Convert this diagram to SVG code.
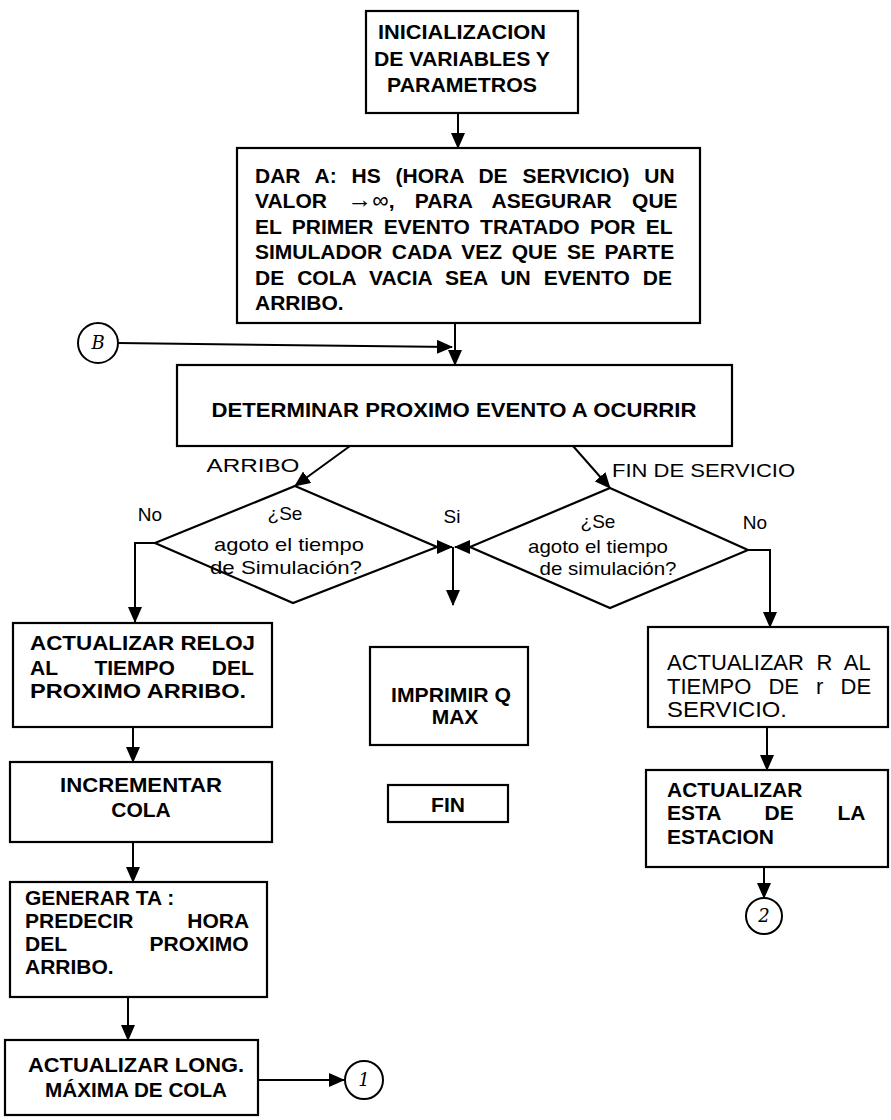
<svg xmlns="http://www.w3.org/2000/svg" width="891" height="1120" viewBox="0 0 891 1120">
<style>
.box{fill:#fff;stroke:#000;stroke-width:2.2}
.dia{fill:none;stroke:#000;stroke-width:2.2}
.con{fill:none;stroke:#000;stroke-width:2}
.b{font-family:"Liberation Sans",Arial,sans-serif;font-weight:bold;font-size:21px;fill:#000}
.r{font-family:"Liberation Sans",Arial,sans-serif;font-size:22px;fill:#000}
.d{font-family:"Liberation Sans",Arial,sans-serif;font-size:19px;fill:#000}
.h{font-family:"DejaVu Serif",serif;font-style:italic;font-size:18px;fill:#000}
.c{fill:#fff;stroke:#000;stroke-width:2}
.n{font-weight:normal}
</style>
<defs>
<marker id="ah" markerUnits="userSpaceOnUse" markerWidth="16" markerHeight="14" refX="15" refY="7" orient="auto">
<path d="M0,0 L16,7 L0,14 Z" fill="#000"/>
</marker>
</defs>
<rect width="891" height="1120" fill="#fff"/>

<g id="connectors">
<line class="con" x1="458" y1="113" x2="458" y2="148" marker-end="url(#ah)"/>
<line class="con" x1="455" y1="323" x2="455" y2="365" marker-end="url(#ah)"/>
<line class="con" x1="118" y1="343" x2="452" y2="347" marker-end="url(#ah)"/>
<line class="con" x1="350" y1="446" x2="295" y2="486" marker-end="url(#ah)"/>
<line class="con" x1="573" y1="446" x2="610" y2="488" marker-end="url(#ah)"/>
<line class="con" x1="437" y1="547" x2="452" y2="547" marker-end="url(#ah)"/>
<line class="con" x1="470" y1="547" x2="455" y2="547" marker-end="url(#ah)"/>
<line class="con" x1="453" y1="547" x2="453" y2="605" marker-end="url(#ah)"/>
<polyline class="con" points="155,543 135,543 135,622" marker-end="url(#ah)"/>
<polyline class="con" points="748,550 770,550 770,627" marker-end="url(#ah)"/>
<line class="con" x1="767" y1="727" x2="767" y2="770" marker-end="url(#ah)"/>
<line class="con" x1="764" y1="867" x2="764" y2="898" marker-end="url(#ah)"/>
<line class="con" x1="133" y1="727" x2="133" y2="762" marker-end="url(#ah)"/>
<line class="con" x1="133" y1="842" x2="133" y2="882" marker-end="url(#ah)"/>
<line class="con" x1="128" y1="997" x2="128" y2="1040" marker-end="url(#ah)"/>
<line class="con" x1="258" y1="1080" x2="344" y2="1080" marker-end="url(#ah)"/>
</g>

<g id="n-init">
<rect class="box" x="366" y="11" width="212" height="102"/>
<text class="b" x="462" y="39" text-anchor="middle" textLength="168" lengthAdjust="spacingAndGlyphs">INICIALIZACION</text>
<text class="b" x="462" y="66" text-anchor="middle" textLength="176" lengthAdjust="spacingAndGlyphs">DE VARIABLES Y</text>
<text class="b" x="462" y="92" text-anchor="middle" textLength="150" lengthAdjust="spacingAndGlyphs">PARAMETROS</text>
</g>

<g id="n-dar">
<rect class="box" x="237" y="148" width="463" height="175"/>
<text class="b" x="255" y="183" style="word-spacing:9px">DAR A: HS (HORA DE SERVICIO) UN</text>
<text class="b" x="255" y="208" style="word-spacing:14.5px">VALOR <tspan class="n" font-size="25">→</tspan><tspan class="n" font-size="23">∞</tspan>, PARA ASEGURAR QUE</text>
<text class="b" x="255" y="234" style="word-spacing:4.5px">EL PRIMER EVENTO TRATADO POR EL</text>
<text class="b" x="255" y="259" style="word-spacing:3.8px">SIMULADOR CADA VEZ QUE SE PARTE</text>
<text class="b" x="255" y="285" style="word-spacing:7.2px">DE COLA VACIA SEA UN EVENTO DE</text>
<text class="b" x="255" y="310">ARRIBO.</text>
</g>

<g id="n-B">
<circle class="c" cx="98" cy="343" r="20"/>
<text class="h" x="98" y="349" text-anchor="middle">B</text>
</g>

<g id="n-det">
<rect class="box" x="177" y="365" width="555" height="81"/>
<text class="b" x="454" y="417" text-anchor="middle" textLength="485" lengthAdjust="spacingAndGlyphs">DETERMINAR PROXIMO EVENTO A OCURRIR</text>
</g>

<g id="n-q1">
<polygon class="dia" points="295,486 437,547 293,603 155,543"/>
<text class="d" x="285" y="520" text-anchor="middle">¿Se</text>
<text class="d" x="289" y="551" text-anchor="middle" textLength="150" lengthAdjust="spacingAndGlyphs">agoto el tiempo</text>
<text class="d" x="286" y="574" text-anchor="middle" textLength="152" lengthAdjust="spacingAndGlyphs">de Simulación?</text>
</g>

<g id="n-q2">
<polygon class="dia" points="610,488 748,550 610,608 470,547"/>
<text class="d" x="598" y="528" text-anchor="middle">¿Se</text>
<text class="d" x="598" y="553" text-anchor="middle" textLength="140" lengthAdjust="spacingAndGlyphs">agoto el tiempo</text>
<text class="d" x="608" y="575" text-anchor="middle" textLength="137" lengthAdjust="spacingAndGlyphs">de simulación?</text>
</g>

<g id="labels">
<text class="d" x="253" y="472" text-anchor="middle" textLength="93" lengthAdjust="spacingAndGlyphs">ARRIBO</text>
<text class="d" x="612" y="477" textLength="183" lengthAdjust="spacingAndGlyphs">FIN DE SERVICIO</text>
<text class="d" x="150" y="521" text-anchor="middle">No</text>
<text class="d" x="452" y="523" text-anchor="middle">Si</text>
<text class="d" x="755" y="529" text-anchor="middle">No</text>
</g>

<g id="n-reloj">
<rect class="box" x="13" y="623" width="259" height="104"/>
<text class="b" x="30" y="650" textLength="225" lengthAdjust="spacingAndGlyphs">ACTUALIZAR RELOJ</text>
<text class="b" x="30" y="675" style="word-spacing:31px">AL TIEMPO DEL</text>
<text class="b" x="30" y="698" textLength="216" lengthAdjust="spacingAndGlyphs">PROXIMO ARRIBO.</text>
</g>

<g id="n-incr">
<rect class="box" x="10" y="762" width="262" height="80"/>
<text class="b" x="141" y="792" text-anchor="middle" textLength="162" lengthAdjust="spacingAndGlyphs">INCREMENTAR</text>
<text class="b" x="141" y="817" text-anchor="middle">COLA</text>
</g>

<g id="n-gen">
<rect class="box" x="10" y="882" width="257" height="115"/>
<text class="b" x="25" y="905">GENERAR TA :</text>
<text class="b" x="25" y="928" style="word-spacing:48px">PREDECIR HORA</text>
<text class="b" x="25" y="951" style="word-spacing:77px">DEL PROXIMO</text>
<text class="b" x="25" y="974">ARRIBO.</text>
</g>

<g id="n-long">
<rect class="box" x="5" y="1040" width="253" height="75"/>
<text class="b" x="136" y="1072" text-anchor="middle" textLength="216" lengthAdjust="spacingAndGlyphs">ACTUALIZAR LONG.</text>
<text class="b" x="136" y="1097" text-anchor="middle" textLength="182" lengthAdjust="spacingAndGlyphs">MÁXIMA DE COLA</text>
</g>

<g id="n-1">
<circle class="c" cx="364" cy="1080" r="19"/>
<text class="h" x="364" y="1086" text-anchor="middle">1</text>
</g>

<g id="n-imp">
<rect class="box" x="370" y="647" width="158" height="98"/>
<text class="b" x="451" y="702" text-anchor="middle" textLength="120" lengthAdjust="spacingAndGlyphs">IMPRIMIR Q</text>
<text class="b" x="455" y="724" text-anchor="middle">MAX</text>
</g>

<g id="n-fin">
<rect class="box" x="388" y="785" width="120" height="37"/>
<text class="b" x="448" y="812" text-anchor="middle">FIN</text>
</g>

<g id="n-ral">
<rect class="box" x="648" y="627" width="240" height="100"/>
<text class="r" x="667" y="670" style="word-spacing:6.5px">ACTUALIZAR R AL</text>
<text class="r" x="667" y="694" style="word-spacing:11px">TIEMPO DE r DE</text>
<text class="r" x="667" y="717" textLength="120" lengthAdjust="spacingAndGlyphs">SERVICIO.</text>
</g>

<g id="n-esta">
<rect class="box" x="646" y="770" width="242" height="97"/>
<text class="b" x="667" y="797">ACTUALIZAR</text>
<text class="b" x="667" y="820" style="word-spacing:38px">ESTA DE LA</text>
<text class="b" x="667" y="844">ESTACION</text>
</g>

<g id="n-2">
<circle class="c" cx="764" cy="916" r="18"/>
<text class="h" x="764" y="922" text-anchor="middle">2</text>
</g>
</svg>
